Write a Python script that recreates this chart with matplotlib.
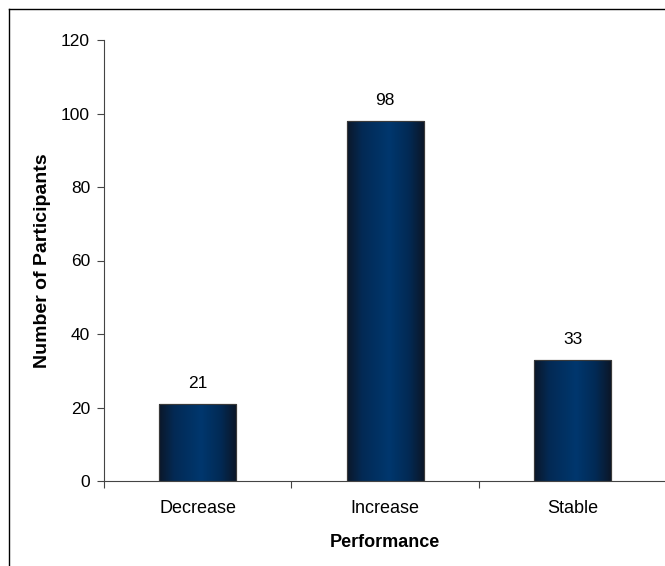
import numpy as np
import matplotlib
matplotlib.use("Agg")
import matplotlib.pyplot as plt
from matplotlib.colors import LinearSegmentedColormap
from matplotlib.lines import Line2D

categories = ["Decrease", "Increase", "Stable"]
values = [21, 98, 33]
yticks = [0, 20, 40, 60, 80, 100, 120]

plt.rcParams['font.family'] = ['Liberation Sans', 'DejaVu Sans']

W, H = 665, 566
fig = plt.figure(figsize=(W / 100, H / 100), dpi=100)
ax = fig.add_axes([104 / W, 1 - 481 / H, 1 - 104 / W + 0.002, (481 - 40) / H])

x = np.arange(len(categories))
bars = ax.bar(x, values, width=0.41, color="#002a58", edgecolor="#3a3a3a", linewidth=0.8, zorder=2)

cmap = LinearSegmentedColormap.from_list(
    "grad", [(0.0, "#0b1729"), (0.2, "#032a55"), (0.55, "#00376e"), (0.8, "#022a55"), (1.0, "#0b1729")])
grad = np.linspace(0, 1, 256).reshape(1, -1)
for b in bars:
    x0, y0 = b.get_x(), b.get_y()
    w, h = b.get_width(), b.get_height()
    im = ax.imshow(grad, cmap=cmap, extent=[x0, x0 + w, y0, y0 + h], aspect="auto", zorder=2.5)
    im.set_clip_path(b)
    ax.add_patch(plt.Rectangle((x0, y0), w, h, fill=False, edgecolor="#3a3a3a", linewidth=0.8, zorder=3))

for xi, v in zip(x, values):
    ax.annotate(str(v), (xi, v), xytext=(0, 9), textcoords="offset points",
                ha="center", va="bottom", fontsize=12.5)

ax.set_xlim(-0.5, 2.5)
ax.set_ylim(0, 120)
ax.set_yticks(yticks)
ax.set_xticks(x)
ax.set_xticklabels(categories, fontsize=13)
ax.set_xticks([-0.5, 0.5, 1.5, 2.5], minor=True)
ax.tick_params(axis="x", which="major", length=0, pad=14)
ax.tick_params(axis="x", which="minor", length=5, width=0.8, color="#444444")
ax.tick_params(axis="y", length=5, width=0.8, labelsize=12.5, pad=5, color="#444444")
for s in ["top", "right"]:
    ax.spines[s].set_visible(False)
for s in ["left", "bottom"]:
    ax.spines[s].set_linewidth(0.8)
    ax.spines[s].set_color("#444444")

ax.set_xlabel("Performance", fontsize=13, fontweight="bold", labelpad=12)
ax.set_ylabel("Number of Participants", fontsize=14, fontweight="bold", labelpad=7)

# outer chart-area border (top and left visible)
fig.add_artist(Line2D([9 / W, 1.0], [1 - 9 / H, 1 - 9 / H], transform=fig.transFigure, color="black", linewidth=1))
fig.add_artist(Line2D([9 / W, 9 / W], [0, 1 - 9 / H], transform=fig.transFigure, color="black", linewidth=1))

fig.savefig("out.png", dpi=100)
